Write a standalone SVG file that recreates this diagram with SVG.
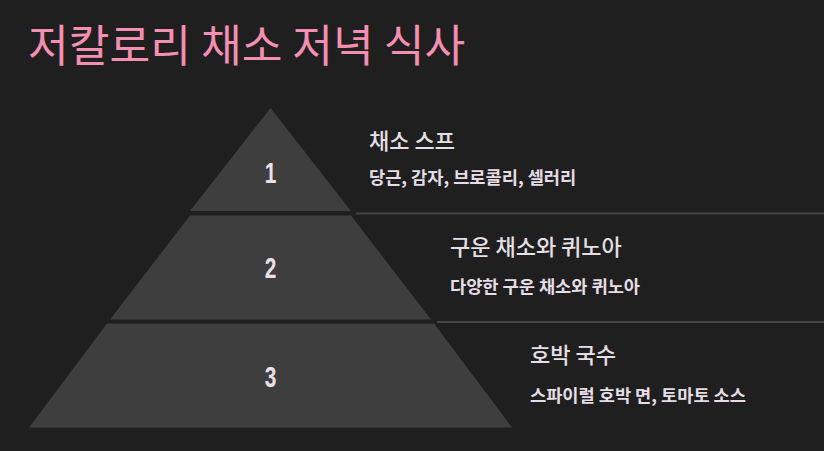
<svg xmlns="http://www.w3.org/2000/svg" width="824" height="451" viewBox="0 0 824 451">
<style>
.tier{fill:#3e3e3e}
.sep{stroke:#444;stroke-width:2;fill:none}
.num{font-family:"Liberation Sans",Arial,sans-serif;font-weight:bold;font-size:29px;fill:#ebe0e8;text-anchor:middle}
.ttl{font-family:"Noto Sans CJK KR","Noto Sans",sans-serif;font-weight:500;font-size:22px;fill:#e6e0e6}
.sub{font-family:"Noto Sans CJK KR","Noto Sans",sans-serif;font-weight:700;font-size:17.6px;fill:#e6dee6}
.head{font-family:"Noto Sans CJK KR","Noto Sans",sans-serif;font-weight:400;font-size:44.3px;fill:#f48fb1}
</style>
<rect width="824" height="451" fill="#1f1f1f"/>
<text class="head" x="28" y="62">저칼로리 채소 저녁 식사</text>
<g id="connectors">
<line class="sep" x1="356" y1="213.5" x2="824" y2="213.5"/>
<line class="sep" x1="437" y1="322" x2="824" y2="322"/>
</g>
<g id="tier1">
<polygon class="tier" points="270.5,108 351,211 190,211"/>
<text class="num" transform="translate(270.5,183) scale(0.72,1)">1</text>
<text class="ttl" x="369" y="149">채소 스프</text>
<text class="sub" x="369" y="184">당근, 감자, 브로콜리, 셀러리</text>
</g>
<g id="tier2">
<polygon class="tier" points="190,215.5 351,215.5 431,319.5 110,319.5"/>
<text class="num" transform="translate(270.5,278) scale(0.72,1)">2</text>
<text class="ttl" x="450" y="255">구운 채소와 퀴노아</text>
<text class="sub" x="450" y="293">다양한 구운 채소와 퀴노아</text>
</g>
<g id="tier3">
<polygon class="tier" points="107,323.5 434,323.5 512,427.5 29,427.5"/>
<text class="num" transform="translate(270.5,386.5) scale(0.72,1)">3</text>
<text class="ttl" x="530" y="363">호박 국수</text>
<text class="sub" x="530" y="402">스파이럴 호박 면, 토마토 소스</text>
</g>
</svg>
